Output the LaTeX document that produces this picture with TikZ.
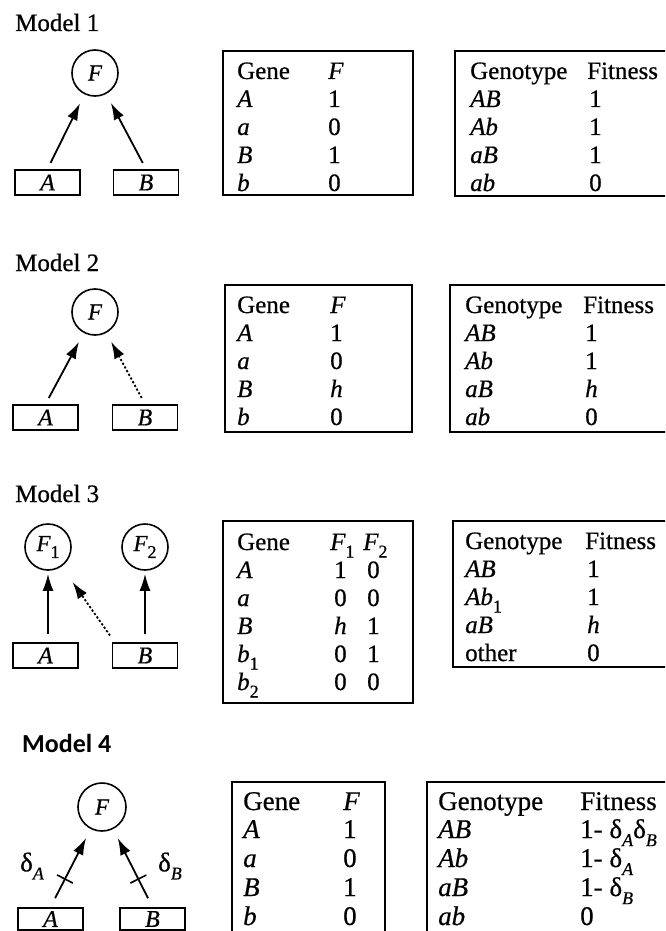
\documentclass[tikz,border=0pt]{standalone}
\usepackage{fontspec}
\setmainfont{Liberation Serif}[FakeBold=0.6]
\newfontfamily\calibrifont{Carlito}
\usetikzlibrary{arrows.meta}
\newcommand\lowsub[1]{\raisebox{-0.3em}{\fontsize{18}{18}\selectfont #1}}
\begin{document}
\begin{tikzpicture}[x=1pt,y=-1pt,
  modeltitle/.style={anchor=base west, inner sep=0, font=\fontsize{25}{25}\selectfont},
  circ/.style={circle, draw, line width=1.6pt, minimum size=46pt, inner sep=0, font=\fontsize{23}{23}\selectfont\itshape},
  genebox/.style={draw, line width=1.8pt, minimum width=65pt, minimum height=25pt, inner sep=0, font=\fontsize{24}{24}\selectfont\itshape},
  cell/.style={anchor=base west, inner sep=0, font=\fontsize{25}{25}\selectfont},
  icell/.style={anchor=base west, inner sep=0, font=\fontsize{25}{25}\selectfont\itshape},
  cellb/.style={anchor=base west, inner sep=0, font=\fontsize{27}{27}\selectfont},
  icellb/.style={anchor=base west, inner sep=0, font=\fontsize{27}{27}\selectfont\itshape},
  tabframe/.style={draw, line width=2pt},
  arr/.style={-{Latex[length=17pt,width=11pt]}, line width=1.8pt},
  dottedarr/.style={-{Latex[length=17pt,width=11pt]}, line width=1.8pt, dash pattern=on 2.2pt off 2pt},
  tickline/.style={line width=1.6pt},
  deltalabel/.style={inner sep=0, font=\fontsize{27}{27}\selectfont}
]
\useasboundingbox (0,0) rectangle (665,931);
\clip (0,0) rectangle (665,931);
\fill[white] (0,0) rectangle (665,931);

% ---------------- Model 1 ----------------
\node[modeltitle] (m1) at (15,31) {Model 1};
\node[circ] (F1) at (95,73) {F};
\node[genebox] (A1) at (47.5,182.5) {A};
\node[genebox] (B1) at (146,182.5) {B};
\draw[arr, shorten <=7pt, shorten >=10pt] (A1.north) -- (F1);
\draw[arr, shorten <=7pt, shorten >=10pt] (B1.north) -- (F1);

\draw[tabframe] (223,51) rectangle (413,195);
\node[cell]  (t1h1) at (237,79)  {Gene};
\node[icell] (t1h2) at (328,79)  {F};
\node[icell] (t1a1) at (237,107) {A};
\node[cell]  (t1a2) at (328,107) {1};
\node[icell] (t1b1) at (237,135) {a};
\node[cell]  (t1b2) at (328,135) {0};
\node[icell] (t1c1) at (237,163) {B};
\node[cell]  (t1c2) at (328,163) {1};
\node[icell] (t1d1) at (237,191) {b};
\node[cell]  (t1d2) at (328,191) {0};

\draw[tabframe] (455,51) rectangle (680,196);
\node[cell]  (u1h1) at (470,79)  {Genotype};
\node[cell]  (u1h2) at (587,79)  {Fitness};
\node[icell] (u1a1) at (470,107) {AB};
\node[cell]  (u1a2) at (589,107) {1};
\node[icell] (u1b1) at (470,135) {Ab};
\node[cell]  (u1b2) at (589,135) {1};
\node[icell] (u1c1) at (470,163) {aB};
\node[cell]  (u1c2) at (589,163) {1};
\node[icell] (u1d1) at (470,191) {ab};
\node[cell]  (u1d2) at (589,191) {0};

% ---------------- Model 2 ----------------
\node[modeltitle] (m2) at (15,271) {Model 2};
\node[circ] (F2) at (95,312) {F};
\node[genebox] (A2) at (45.5,417.5) {A};
\node[genebox] (B2) at (145,417.5) {B};
\draw[arr, shorten <=7pt, shorten >=10pt] (A2.north) -- (F2);
\draw[dottedarr, shorten <=7pt, shorten >=10pt] (B2.north) -- (F2);

\draw[tabframe] (225,285) rectangle (412,432);
\node[cell]  (t2h1) at (237,313) {Gene};
\node[icell] (t2h2) at (330,313) {F};
\node[icell] (t2a1) at (237,341) {A};
\node[cell]  (t2a2) at (330,341) {1};
\node[icell] (t2b1) at (237,369) {a};
\node[cell]  (t2b2) at (330,369) {0};
\node[icell] (t2c1) at (237,397) {B};
\node[icell] (t2c2) at (330,397) {h};
\node[icell] (t2d1) at (237,425) {b};
\node[cell]  (t2d2) at (330,425) {0};

\draw[tabframe] (450,285) rectangle (680,432);
\node[cell]  (u2h1) at (465,313) {Genotype};
\node[cell]  (u2h2) at (583,313) {Fitness};
\node[icell] (u2a1) at (465,341) {AB};
\node[cell]  (u2a2) at (585,341) {1};
\node[icell] (u2b1) at (465,369) {Ab};
\node[cell]  (u2b2) at (585,369) {1};
\node[icell] (u2c1) at (465,397) {aB};
\node[icell] (u2c2) at (585,397) {h};
\node[icell] (u2d1) at (465,425) {ab};
\node[cell]  (u2d2) at (585,425) {0};

% ---------------- Model 3 ----------------
\node[modeltitle] (m3) at (15,502) {Model 3};
\node[circ] (F31) at (48,547) {F\lowsub{\upshape 1}};
\node[circ] (F32) at (145,547) {F\lowsub{\upshape 2}};
\node[genebox] (A3) at (45.5,655.5) {A};
\node[genebox] (B3) at (145,655.5) {B};
\draw[arr, shorten <=8pt, shorten >=3pt] (F31 |- A3.north) -- (F31);
\draw[arr, shorten <=8pt, shorten >=3pt] (B3.north) -- (F32);
\draw[dottedarr, shorten <=8pt, shorten >=19pt] ([xshift=3pt]B3.north west) -- (F31);

\draw[tabframe] (223,521) rectangle (413,703);
\node[cell]  (t3h1) at (237,550) {Gene};
\node[icell] (t3h2) at (330,550) {F\lowsub{\upshape 1}};
\node[icell] (t3h3) at (363,550) {F\lowsub{\upshape 2}};
\node[icell] (t3a1) at (237,578) {A};
\node[cell]  (t3a2) at (334,578) {1};
\node[cell]  (t3a3) at (367,578) {0};
\node[icell] (t3b1) at (237,606) {a};
\node[cell]  (t3b2) at (334,606) {0};
\node[cell]  (t3b3) at (367,606) {0};
\node[icell] (t3c1) at (237,634) {B};
\node[icell] (t3c2) at (334,634) {h};
\node[cell]  (t3c3) at (367,634) {1};
\node[icell] (t3d1) at (237,662) {b\lowsub{\upshape 1}};
\node[cell]  (t3d2) at (334,662) {0};
\node[cell]  (t3d3) at (367,662) {1};
\node[icell] (t3e1) at (237,690) {b\lowsub{\upshape 2}};
\node[cell]  (t3e2) at (334,690) {0};
\node[cell]  (t3e3) at (367,690) {0};

\draw[tabframe] (453,521) rectangle (680,667);
\node[cell]  (u3h1) at (465,549) {Genotype};
\node[cell]  (u3h2) at (585,549) {Fitness};
\node[icell] (u3a1) at (465,577) {AB};
\node[cell]  (u3a2) at (587,577) {1};
\node[icell] (u3b1) at (465,605) {Ab\lowsub{\upshape 1}};
\node[cell]  (u3b2) at (587,605) {1};
\node[icell] (u3c1) at (465,633) {aB};
\node[icell] (u3c2) at (587,633) {h};
\node[cell]  (u3d1) at (465,661) {other};
\node[cell]  (u3d2) at (587,661) {0};

% ---------------- Model 4 ----------------
\node[anchor=base west, inner sep=0, font=\calibrifont\bfseries\fontsize{26}{26}\selectfont] (m4) at (22,752) {Model 4};
\node[circ, minimum size=48pt] (F4) at (102,807) {F};
\node[genebox, minimum height=22pt] (A4) at (50.5,919) {A};
\node[genebox, minimum height=22pt] (B4) at (152.5,919) {B};
\draw[arr, shorten <=10pt, shorten >=10pt] (A4.north) -- node[pos=0.36, sloped, minimum height=16pt, minimum width=0pt, inner sep=0] (tkA) {} (F4);
\draw[arr, shorten <=10pt, shorten >=10pt] (B4.north) -- node[pos=0.36, sloped, minimum height=16pt, minimum width=0pt, inner sep=0] (tkB) {} (F4);
\draw[tickline] (tkA.north) -- (tkA.south);
\draw[tickline] (tkB.north) -- (tkB.south);
\node[deltalabel] (dA) at (32,866) {δ\lowsub{\itshape A}};
\node[deltalabel] (dB) at (170,866) {δ\lowsub{\itshape B}};

\draw[tabframe] (232,782) rectangle (385,960);
\node[cellb]  (t4h1) at (243,810) {Gene};
\node[icellb] (t4h2) at (343,810) {F};
\node[icellb] (t4a1) at (243,838) {A};
\node[cellb]  (t4a2) at (343,838) {1};
\node[icellb] (t4b1) at (243,867) {a};
\node[cellb]  (t4b2) at (343,867) {0};
\node[icellb] (t4c1) at (243,896) {B};
\node[cellb]  (t4c2) at (343,896) {1};
\node[icellb] (t4d1) at (243,925) {b};
\node[cellb]  (t4d2) at (343,925) {0};

\draw[tabframe] (427,782) rectangle (680,960);
\node[cellb]  (u4h1) at (438,810) {Genotype};
\node[cellb]  (u4h2) at (580,810) {Fitness};
\node[icellb] (u4a1) at (438,838) {AB};
\node[cellb]  (u4a2) at (580,838) {1- δ\lowsub{\itshape A}δ\lowsub{\itshape B}};
\node[icellb] (u4b1) at (438,867) {Ab};
\node[cellb]  (u4b2) at (580,867) {1- δ\lowsub{\itshape A}};
\node[icellb] (u4c1) at (438,896) {aB};
\node[cellb]  (u4c2) at (580,896) {1- δ\lowsub{\itshape B}};
\node[icellb] (u4d1) at (438,925) {ab};
\node[cellb]  (u4d2) at (580,925) {0};
\end{tikzpicture}
\end{document}
